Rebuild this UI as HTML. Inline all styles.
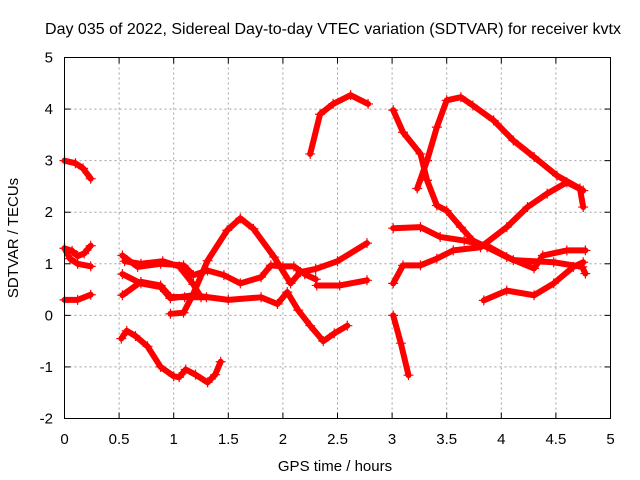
<!DOCTYPE html>
<html><head><meta charset="utf-8"><style>
html,body{margin:0;padding:0;background:#fff}
svg{display:block;font-family:"Liberation Sans",sans-serif}
</style></head><body>
<svg id="chart" width="640" height="480" viewBox="0 0 640 480">
<text x="333" y="34" font-size="16" text-anchor="middle">Day 035 of 2022, Sidereal Day-to-day VTEC variation (SDTVAR) for receiver kvtx</text>
<g id="grid"></g>
<g id="ticks"></g>
<g id="series"></g>
<rect x="64.5" y="57.5" width="546" height="361" fill="none" stroke="#000" stroke-width="1"/>
<text x="335" y="471" font-size="15" text-anchor="middle">GPS time / hours</text>
<text transform="translate(18,238) rotate(-90)" font-size="15" text-anchor="middle">SDTVAR / TECUs</text>
</svg>
<script>
const xTicks=[0,0.5,1,1.5,2,2.5,3,3.5,4,4.5,5];
const xTickLabels=["0","0.5","1","1.5","2","2.5","3","3.5","4","4.5","5"];
const yTicks=[-2,-1,0,1,2,3,4,5];
const yTickLabels=["-2","-1","0","1","2","3","4","5"];
const trackA=[[0,3.0],[0.1,2.95],[0.17,2.85],[0.24,2.65]];
const trackB=[[0,1.3],[0.07,1.25],[0.12,1.15],[0.18,1.2],[0.24,1.35]];
const trackC=[[0,1.3],[0.05,1.1],[0.12,1.0],[0.24,0.95]];
const trackD=[[0,0.3],[0.12,0.3],[0.24,0.4]];
const trackE=[[0.52,-0.45],[0.57,-0.3],[0.65,-0.4],[0.76,-0.6],[0.88,-1.0],[1.0,-1.18],[1.05,-1.2],[1.11,-1.05],[1.2,-1.15],[1.31,-1.3],[1.38,-1.15],[1.43,-0.9]];
const trackF=[[0.53,1.16],[0.67,0.94],[0.88,1.0],[1.09,0.97],[1.18,0.78],[1.31,0.87],[1.46,0.78],[1.61,0.62],[1.8,0.74],[1.89,0.97],[2.0,0.95],[2.1,0.95],[2.2,0.8],[2.3,0.7]];
const trackG=[[0.97,0.03],[1.09,0.05],[1.18,0.42],[1.31,1.06],[1.49,1.65],[1.61,1.88],[1.73,1.68],[1.92,1.13],[2.07,0.62],[2.16,0.84],[2.3,0.9],[2.5,1.05],[2.77,1.4]];
const trackH=[[0.53,0.8],[0.7,0.62],[0.88,0.55],[0.97,0.33],[1.18,0.39],[1.5,0.3],[1.8,0.35],[1.95,0.22],[2.04,0.45],[2.14,0.1],[2.25,-0.2],[2.37,-0.5],[2.47,-0.35],[2.59,-0.2]];
const trackI=[[0.53,0.39],[0.7,0.65],[0.88,0.58],[0.97,0.36],[1.1,0.35],[1.3,0.35]];
const trackJ=[[0.55,1.05],[0.7,1.0],[0.9,1.05],[1.05,0.95],[1.18,0.6],[1.25,0.35]];
const trackK=[[2.25,3.13],[2.34,3.9],[2.46,4.1],[2.62,4.27],[2.78,4.1]];
const trackL=[[3.01,3.98],[3.1,3.55],[3.26,3.13],[3.32,2.62],[3.41,2.13],[3.5,2.03],[3.63,1.71],[3.74,1.45],[3.87,1.32],[4.05,1.13],[4.3,0.91],[4.38,1.16],[4.6,1.26],[4.77,1.26]];
const trackM=[[3.23,2.46],[3.32,3.0],[3.41,3.65],[3.5,4.17],[3.63,4.23],[3.74,4.07],[3.93,3.78],[4.11,3.39],[4.3,3.07],[4.51,2.71],[4.72,2.46],[4.75,2.1]];
const trackN=[[3.01,1.69],[3.26,1.71],[3.44,1.52],[3.66,1.45],[3.87,1.35],[4.11,1.07],[4.48,1.03],[4.74,0.94],[4.77,0.81]];
const trackO=[[3.01,0.62],[3.1,0.97],[3.26,0.97],[3.41,1.1],[3.56,1.26],[3.81,1.32],[4.05,1.71],[4.24,2.1],[4.42,2.36],[4.6,2.58],[4.75,2.42]];
const trackP=[[3.84,0.29],[4.05,0.48],[4.3,0.39],[4.48,0.62],[4.66,0.94],[4.75,1.03]];
const trackQ=[[3.01,0.0],[3.08,-0.54],[3.15,-1.16]];
const trackR=[[2.31,0.58],[2.52,0.58],[2.77,0.68]];
const tracks=[trackA,trackB,trackC,trackD,trackE,trackF,trackG,trackH,trackI,trackJ,trackK,trackL,trackM,trackN,trackO,trackP,trackQ,trackR];

const NS="http://www.w3.org/2000/svg";
const X0=64.5,X1=610.5,Y0=418.5,Y1=57.5;
function xs(t){return X0+(t-0)/(5-0)*(X1-X0);}
function ys(v){return Y0-(v-(-2))/(5-(-2))*(Y0-Y1);}
function mk(tag,attrs,parent){const e=document.createElementNS(NS,tag);for(const k in attrs)e.setAttribute(k,attrs[k]);parent.appendChild(e);return e;}
const grid=document.getElementById('grid'),ticks=document.getElementById('ticks'),series=document.getElementById('series');
xTicks.forEach((t,i)=>{
  const x=xs(t);
  if(i>0&&i<xTicks.length-1){const g=mk('line',{x1:x,x2:x,y1:Y1,y2:Y0,stroke:'#a0a0a0','stroke-dasharray':'2,3'},grid);
  
  }
  mk('line',{x1:x,x2:x,y1:Y0,y2:Y0-6,stroke:'#000'},ticks);
  mk('line',{x1:x,x2:x,y1:Y1,y2:Y1+6,stroke:'#000'},ticks);
  const l=mk('text',{x:x,y:444,'font-size':15,'text-anchor':'middle'},ticks);l.textContent=xTickLabels[i];
  
  
});
yTicks.forEach((v,i)=>{
  const y=ys(v);
  if(i>0&&i<yTicks.length-1){const g=mk('line',{x1:X0,x2:X1,y1:y,y2:y,stroke:'#a0a0a0','stroke-dasharray':'2,3'},grid);
  
  }
  mk('line',{x1:X0,x2:X0+6,y1:y,y2:y,stroke:'#000'},ticks);
  mk('line',{x1:X1,x2:X1-6,y1:y,y2:y,stroke:'#000'},ticks);
  const l=mk('text',{x:53,y:y+5,'font-size':15,'text-anchor':'end'},ticks);l.textContent=yTickLabels[i];
  
  
});
tracks.forEach((tr,k)=>{
  const g=mk('g',{},series);
  
  
  mk('polyline',{points:tr.map(p=>xs(p[0])+','+ys(p[1])).join(' '),fill:'none',stroke:'#ff0000','stroke-width':6,'stroke-linejoin':'round','stroke-linecap':'round'},g);
  tr.forEach(p=>{
    const x=xs(p[0]),y=ys(p[1]);
    const m=mk('path',{d:`M${x-5},${y}H${x+5}M${x},${y-5}V${y+5}`,stroke:'#ff0000','stroke-width':1.2},g);
    
    
  });
});
</script>
</body></html>
